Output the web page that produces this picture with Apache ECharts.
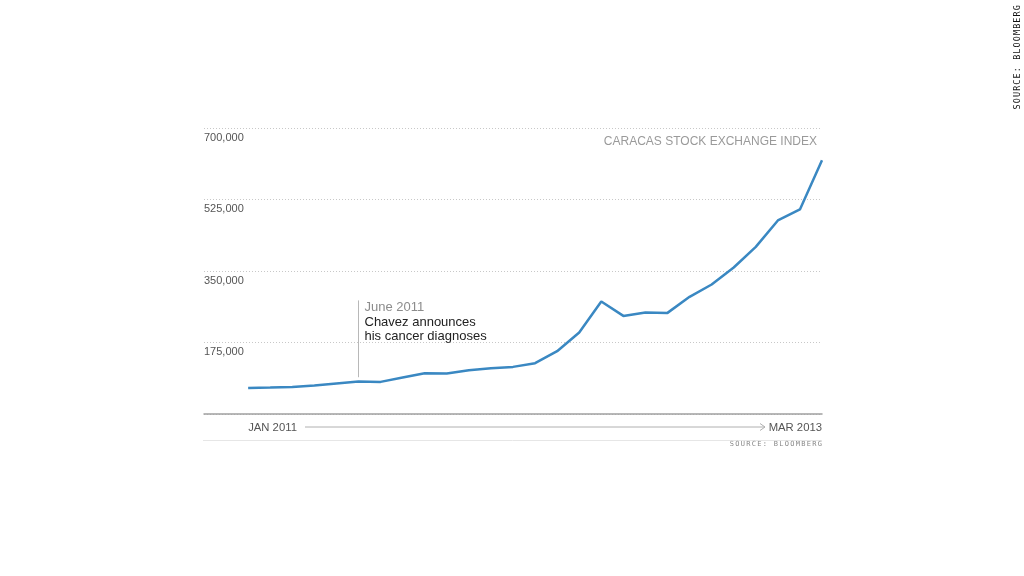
<!DOCTYPE html>
<html>
<head>
<meta charset="utf-8">
<script src="https://cdn.jsdelivr.net/npm/echarts@6/dist/echarts.min.js"></script>
<style>
html,body{margin:0;padding:0;background:#fff;}
#chart{width:1024px;height:576px;}
</style>
</head>
<body>
<div id="chart"></div>
<script>
// Monthly closes, Jan 2011 .. Mar 2013
const months = ["Jan 2011","Feb 2011","Mar 2011","Apr 2011","May 2011","Jun 2011","Jul 2011","Aug 2011","Sep 2011","Oct 2011","Nov 2011","Dec 2011",
  "Jan 2012","Feb 2012","Mar 2012","Apr 2012","May 2012","Jun 2012","Jul 2012","Aug 2012","Sep 2012","Oct 2012","Nov 2012","Dec 2012",
  "Jan 2013","Feb 2013","Mar 2013"];
const values = [63900, 64900, 66300, 69800, 74700, 79600, 78600, 89400, 99900, 99100, 107200, 112100,
  115300, 124400, 153700, 199500, 275400, 240100, 248500, 247500, 286700, 317000, 358600, 409100,
  473700, 500600, 621300];
const yTicks = [0, 175000, 350000, 525000, 700000];
const startLabel = "JAN 2011";
const endLabel = "MAR 2013";
const eventIndex = 5; // June 2011
const eventRange = [90000, 278000];
const eventTitle = "June 2011";
const eventText = ["Chavez announces", "his cancer diagnoses"];
const chartTitle = "CARACAS STOCK EXCHANGE INDEX";
const sourceText = "SOURCE: BLOOMBERG";

const seriesData = values.map((v, i) => [i, v]);
const lastIdx = months.length - 1;
const FONT = 'Liberation Sans, Arial, sans-serif';
const spacedSource = sourceText.split('').map(c => '{c|' + c + '}').join('');

const chart = echarts.init(document.getElementById('chart'), null, {renderer: 'canvas'});
chart.setOption({
  animation: false,
  backgroundColor: '#fff',
  title: {
    text: chartTitle,
    right: 207,
    top: 136,
    padding: 0,
    textStyle: {fontFamily: FONT, fontSize: 12, fontWeight: 'normal', color: '#9a9a9a'}
  },
  grid: {left: 204, right: 202, top: 128, bottom: 162, containLabel: false},
  xAxis: {
    type: 'value',
    min: -2,
    max: lastIdx,
    splitLine: {show: false},
    axisTick: {show: false},
    axisLine: {show: true, lineStyle: {color: '#a0a0a0', width: 1.5}},
    axisLabel: {
      customValues: [0, lastIdx],
      formatter: v => v === 0 ? startLabel : (v === lastIdx ? endLabel : ''),
      alignMinLabel: 'left',
      alignMaxLabel: 'right',
      margin: 8,
      color: '#555',
      fontSize: 11.3,
      fontFamily: FONT
    }
  },
  yAxis: {
    type: 'value',
    min: yTicks[0],
    max: yTicks[yTicks.length - 1],
    interval: yTicks[1] - yTicks[0],
    axisLine: {show: false},
    axisTick: {show: false},
    splitLine: {show: true, lineStyle: {color: '#c8c8c8', type: [1, 2], width: 1}},
    axisLabel: {
      inside: true,
      align: 'left',
      verticalAlign: 'top',
      margin: 0,
      padding: [4, 0, 0, 0],
      color: '#555',
      fontSize: 11,
      fontFamily: FONT,
      formatter: v => v === 0 ? '' : v.toLocaleString('en-US')
    }
  },
  series: [{
    type: 'line',
    data: seriesData,
    symbol: 'none',
    lineStyle: {color: '#3a88c2', width: 2.5},
    markLine: {
      silent: true,
      symbol: ['none', 'none'],
      label: {show: false},
      lineStyle: {color: '#b8b8b8', width: 1, type: 'solid'},
      data: [[{coord: [eventIndex, eventRange[0]]}, {coord: [eventIndex, eventRange[1]]}]]
    },
    markPoint: {
      silent: true,
      symbol: 'circle',
      symbolSize: 0,
      data: [{coord: [eventIndex, eventRange[1]]}],
      label: {
        show: true,
        position: [6, 0],
        formatter: '{a|' + eventTitle + '}\n' + eventText.map(t => '{b|' + t + '}').join('\n'),
        rich: {
          a: {color: '#8c8c8c', fontSize: 13, lineHeight: 14.5, fontFamily: FONT},
          b: {color: '#222', fontSize: 13, lineHeight: 14.5, fontFamily: FONT}
        }
      }
    }
  }],
  graphic: [
    {type: 'line', shape: {x1: 305, y1: 427, x2: 765, y2: 427}, style: {stroke: '#b0b0b0', lineWidth: 1}, silent: true},
    {type: 'polyline', shape: {points: [[760, 423.5], [765, 427], [760, 430.5]]}, style: {stroke: '#b0b0b0', lineWidth: 1, fill: null}, silent: true},
    {type: 'line', shape: {x1: 203, y1: 440.5, x2: 822, y2: 440.5}, style: {stroke: '#e6e6e6', lineWidth: 1}, silent: true},
    {type: 'text', right: 202, top: 441, silent: true, style: {
      text: spacedSource,
      rich: {c: {width: 5.5, align: 'center', fill: '#888', fontSize: 7, fontFamily: 'DejaVu Sans Mono, monospace'}}
    }},
    {type: 'text', x: 1022, y: 110, rotation: Math.PI / 2, silent: true, style: {
      text: spacedSource,
      align: 'left', verticalAlign: 'bottom',
      rich: {c: {width: 6.2, align: 'center', fill: '#111', fontSize: 8.5, fontFamily: 'DejaVu Sans Mono, monospace'}}
    }}
  ]
});
</script>
</body>
</html>
